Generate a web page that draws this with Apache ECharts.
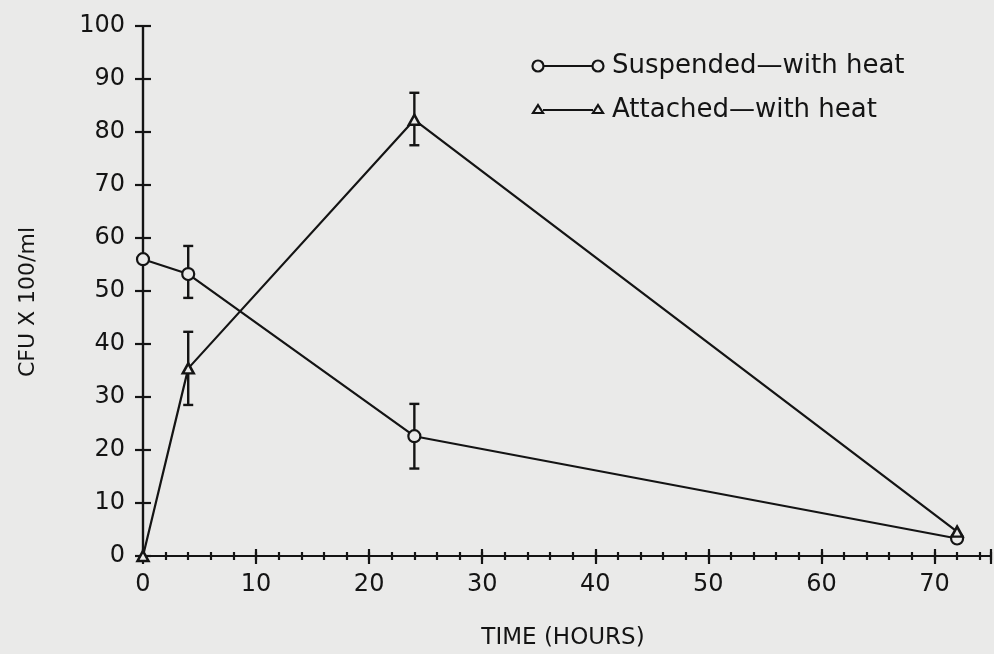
<!DOCTYPE html>
<html>
<head>
<meta charset="utf-8">
<script src="https://cdn.jsdelivr.net/npm/echarts@6/dist/echarts.min.js"></script>
<style>
  html, body { margin: 0; padding: 0; background: #eaeae9; }
  #main { width: 994px; height: 654px; }
</style>
</head>
<body>
<div id="main"></div>
<script>
// time points (hours)
var hours = [0, 4, 24, 72];
// CFU x 100/ml
var suspended = [56, 53.2, 22.6, 3.3];
var attached = [0, 35.4, 82.3, 4.6];
// error bars [hour, low, high]
var suspendedErr = [[4, 48.7, 58.5], [24, 16.5, 28.7]];
var attachedErr = [[4, 28.5, 42.3], [24, 77.5, 87.4]];
var xTicks = [0, 10, 20, 30, 40, 50, 60, 70];
var yTicks = [0, 10, 20, 30, 40, 50, 60, 70, 80, 90, 100];

var ink = '#141414';
var bg = '#eaeae9';
var font = 'DejaVu Sans';

var myChart = echarts.init(document.getElementById('main'));

function pairs(xs, ys) {
    return xs.map(function (x, i) { return [x, ys[i]]; });
}

// error bar drawing
function errBar(params, api) {
    var x = api.value(0);
    var lo = api.coord([x, api.value(1)]);
    var hi = api.coord([x, api.value(2)]);
    var w = 5;
    var st = { stroke: ink, lineWidth: 2.4 };
    return {
        type: 'group',
        children: [
            { type: 'line', shape: { x1: lo[0], y1: lo[1], x2: hi[0], y2: hi[1] }, style: st },
            { type: 'line', shape: { x1: lo[0] - w, y1: lo[1], x2: lo[0] + w, y2: lo[1] }, style: st },
            { type: 'line', shape: { x1: hi[0] - w, y1: hi[1], x2: hi[0] + w, y2: hi[1] }, style: st }
        ]
    };
}

// x axis copies: major ticks out/in, minor ticks out/in
function xAx(interval, len, inside, labels) {
    return {
        type: 'value', position: 'bottom', min: 0, max: 75, interval: interval,
        axisLine: { show: true, lineStyle: { color: ink, width: 2.2 } },
        axisTick: { show: true, inside: inside, length: len, lineStyle: { color: ink, width: 2.2 } },
        axisLabel: {
            show: labels, margin: 17, color: ink, fontFamily: font, fontSize: 24,
            formatter: function (v) { return xTicks.indexOf(v) >= 0 ? String(v) : ''; }
        },
        splitLine: { show: false }
    };
}
function yAx(inside, labels) {
    return {
        type: 'value', position: 'left', min: 0, max: 100, interval: 10,
        axisLine: { show: true, lineStyle: { color: ink, width: 2.2 } },
        axisTick: { show: true, inside: inside, length: 8, lineStyle: { color: ink, width: 2.2 } },
        axisLabel: {
            show: labels, margin: 18, color: ink, fontFamily: font, fontSize: 24,
            formatter: function (v) { return yTicks.indexOf(v) >= 0 ? String(v) : ''; }
        },
        splitLine: { show: false }
    };
}

var option = {
    backgroundColor: bg,
    animation: false,
    grid: { left: 143, right: -9, top: 26, bottom: 98, containLabel: false },
    xAxis: [xAx(10, 8, false, true), xAx(10, 7, true, false), xAx(2, 4, false, false), xAx(2, 4, true, false)],
    yAxis: [yAx(false, true), yAx(true, false)],
    graphic: [
        { type: 'text', x: 28, y: 302, rotation: Math.PI / 2,
          style: { text: 'CFU X 100/ml', fill: ink, font: '22px "DejaVu Sans"', align: 'center', verticalAlign: 'middle' } },
        { type: 'text', x: 563, y: 638,
          style: { text: 'TIME (HOURS)', fill: ink, font: '23px "DejaVu Sans"', align: 'center', verticalAlign: 'middle' } },
        // legend
        { type: 'line', shape: { x1: 544, y1: 66, x2: 592, y2: 66 }, style: { stroke: ink, lineWidth: 2.2 } },
        { type: 'circle', shape: { cx: 538, cy: 66, r: 5.5 }, style: { fill: bg, stroke: ink, lineWidth: 2.2 } },
        { type: 'circle', shape: { cx: 598, cy: 66, r: 5.5 }, style: { fill: bg, stroke: ink, lineWidth: 2.2 } },
        { type: 'text', x: 612, y: 66,
          style: { text: 'Suspended\u2014with heat', fill: ink, font: '26px "DejaVu Sans"', verticalAlign: 'middle' } },
        { type: 'line', shape: { x1: 543, y1: 110, x2: 593, y2: 110 }, style: { stroke: ink, lineWidth: 2.2 } },
        { type: 'polygon', shape: { points: [[538, 105], [543, 113], [533, 113]] }, style: { fill: bg, stroke: ink, lineWidth: 2.2 } },
        { type: 'polygon', shape: { points: [[598, 105], [603, 113], [593, 113]] }, style: { fill: bg, stroke: ink, lineWidth: 2.2 } },
        { type: 'text', x: 612, y: 110,
          style: { text: 'Attached\u2014with heat', fill: ink, font: '26px "DejaVu Sans"', verticalAlign: 'middle' } }
    ],
    series: [
        {
            name: 'Suspended-with heat', type: 'line', data: pairs(hours, suspended),
            symbol: 'circle', symbolSize: 12, clip: false, z: 3,
            lineStyle: { color: ink, width: 2.2 },
            itemStyle: { color: bg, borderColor: ink, borderWidth: 2.2 }
        },
        {
            name: 'Attached-with heat', type: 'line', data: pairs(hours, attached),
            symbol: 'triangle', symbolSize: [11, 10], clip: false, z: 3,
            lineStyle: { color: ink, width: 2.2 },
            itemStyle: { color: bg, borderColor: ink, borderWidth: 2.5 }
        },
        { type: 'custom', renderItem: errBar, data: suspendedErr, clip: false, z: 2 },
        { type: 'custom', renderItem: errBar, data: attachedErr, clip: false, z: 2 }
    ]
};

myChart.setOption(option);
</script>
</body>
</html>
